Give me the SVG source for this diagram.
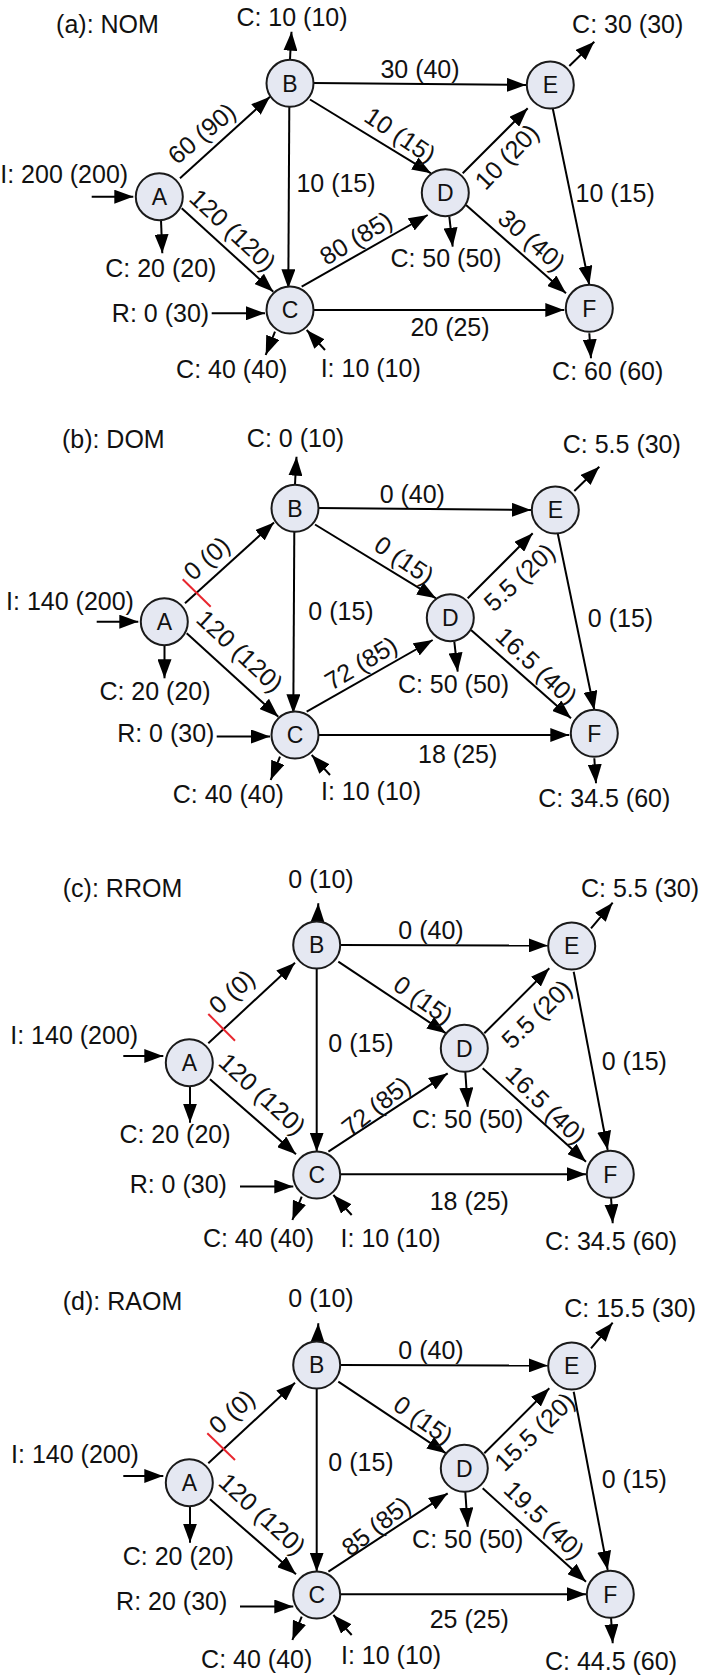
<svg xmlns="http://www.w3.org/2000/svg" width="702" height="1677" viewBox="0 0 702 1677">
<defs>
<marker id="ah" viewBox="0 0 19 14" refX="19" refY="7" markerWidth="19" markerHeight="14" markerUnits="userSpaceOnUse" orient="auto">
<path d="M0,0 L19,7 L0,14 z" fill="#000"/>
</marker>
<style>
.n circle{fill:#e5e8f2;stroke:#1a1a1a;stroke-width:2}
.n text{font-family:"Liberation Sans",Arial,sans-serif;font-size:23px;text-anchor:middle;fill:#111}
.e line{stroke:#000;stroke-width:2;fill:none;marker-end:url(#ah)}
.e line.x{stroke:#e8262e;stroke-width:2;marker-end:none}
.t{font-family:"Liberation Sans",Arial,sans-serif;font-size:25px;fill:#111;text-anchor:middle}
</style>
</defs>
<rect width="702" height="1677" fill="#fff"/>

<!-- Panel (a) -->
<g id="panel-a">
<g id="a-edges" class="e">
<line x1="91.7" y1="196.7" x2="133.3" y2="196.7"/>
<line x1="180" y1="178.3" x2="270" y2="96.7"/>
<line x1="181.7" y1="208.3" x2="273.3" y2="291.7"/>
<line x1="161" y1="220" x2="162.3" y2="253.3"/>
<line x1="290" y1="59" x2="291.5" y2="31.7"/>
<line x1="289.3" y1="106.7" x2="288.3" y2="288.3"/>
<line x1="313" y1="83" x2="526" y2="85"/>
<line x1="310" y1="99.5" x2="431" y2="173.3"/>
<line x1="211.7" y1="313.3" x2="265" y2="313.3"/>
<line x1="275" y1="331.7" x2="265.7" y2="355"/>
<line x1="325" y1="350" x2="306.7" y2="330"/>
<line x1="301.7" y1="286.7" x2="427.7" y2="215"/>
<line x1="313" y1="310" x2="564.3" y2="310"/>
<line x1="462.7" y1="173.3" x2="527.7" y2="108.3"/>
<line x1="569.3" y1="66" x2="594.3" y2="41.7"/>
<line x1="552.7" y1="108.3" x2="589.3" y2="285"/>
<line x1="449.3" y1="216.7" x2="452.7" y2="246.7"/>
<line x1="466" y1="205" x2="566" y2="293.3"/>
<line x1="589.3" y1="333.3" x2="591" y2="358.3"/>
</g>
<g id="a-A" class="n"><circle cx="159.3" cy="196.7" r="23.5"/><text x="159.3" y="204.9">A</text></g>
<g id="a-B" class="n"><circle cx="290" cy="83.3" r="23.5"/><text x="290" y="91.5">B</text></g>
<g id="a-C" class="n"><circle cx="290" cy="310" r="23.5"/><text x="290" y="318.2">C</text></g>
<g id="a-D" class="n"><circle cx="445.3" cy="192.7" r="23.5"/><text x="445.3" y="200.9">D</text></g>
<g id="a-E" class="n"><circle cx="550.3" cy="85" r="23.5"/><text x="550.3" y="93.2">E</text></g>
<g id="a-F" class="n"><circle cx="589.3" cy="308.3" r="23.5"/><text x="589.3" y="316.5">F</text></g>
<g id="a-labels">
<text class="t" x="107.5" y="33">(a): NOM</text>
<text class="t" x="292" y="26">C: 10 (10)</text>
<text class="t" x="64.2" y="182.7">I: 200 (200)</text>
<text class="t" x="160.8" y="276.7">C: 20 (20)</text>
<text class="t" x="336" y="191.7">10 (15)</text>
<text class="t" x="160.5" y="321.7">R: 0 (30)</text>
<text class="t" x="231.7" y="378.3">C: 40 (40)</text>
<text class="t" x="370.7" y="377">I: 10 (10)</text>
<text class="t" x="420" y="78.3">30 (40)</text>
<text class="t" x="615.2" y="201.7">10 (15)</text>
<text class="t" x="446" y="266.7">C: 50 (50)</text>
<text class="t" x="450" y="336">20 (25)</text>
<text class="t" x="627.7" y="33.3">C: 30 (30)</text>
<text class="t" x="607.7" y="380">C: 60 (60)</text>
<text class="t" transform="translate(201.7,133.3) rotate(-40)" y="8.8">60 (90)</text>
<text class="t" transform="translate(233,230) rotate(43)" y="8.8">120 (120)</text>
<text class="t" transform="translate(400.3,135) rotate(34)" y="8.8">10 (15)</text>
<text class="t" transform="translate(506.7,156.7) rotate(-46)" y="8.8">10 (20)</text>
<text class="t" transform="translate(532,240) rotate(41)" y="8.8">30 (40)</text>
<text class="t" transform="translate(356,238) rotate(-31)" y="8.8">80 (85)</text>
</g>
</g>

<!-- Panel (b) -->
<g id="panel-b">
<g id="b-edges" class="e">
<line x1="96.7" y1="621.7" x2="138.3" y2="621.7"/>
<line x1="185" y1="603.3" x2="274" y2="522.5"/>
<line x1="186.7" y1="633.3" x2="278.3" y2="716.7"/>
<line x1="164.5" y1="645" x2="164.5" y2="678.3"/>
<line x1="295" y1="484" x2="296.5" y2="456.7"/>
<line x1="294.3" y1="531.7" x2="293.3" y2="713.3"/>
<line x1="318" y1="508" x2="531" y2="510"/>
<line x1="315" y1="524.5" x2="436" y2="598.3"/>
<line x1="216.7" y1="736.5" x2="270" y2="736.5"/>
<line x1="280" y1="756.7" x2="270.7" y2="780"/>
<line x1="330" y1="775" x2="311.7" y2="755"/>
<line x1="306.7" y1="711.7" x2="432.7" y2="640"/>
<line x1="318" y1="735" x2="569.3" y2="735"/>
<line x1="467.7" y1="598.3" x2="532.7" y2="533.3"/>
<line x1="574.3" y1="491" x2="599.3" y2="466.7"/>
<line x1="557.7" y1="533.3" x2="594.3" y2="710"/>
<line x1="454.3" y1="641.7" x2="457.7" y2="671.7"/>
<line x1="471" y1="630" x2="571" y2="718.3"/>
<line x1="594.3" y1="758.3" x2="596" y2="783.3"/>
<line class="x" x1="182.7" y1="579.3" x2="210.7" y2="606.7"/>
</g>
<g id="b-A" class="n"><circle cx="164.3" cy="621.7" r="23.5"/><text x="164.3" y="629.9">A</text></g>
<g id="b-B" class="n"><circle cx="295" cy="508.3" r="23.5"/><text x="295" y="516.5">B</text></g>
<g id="b-C" class="n"><circle cx="295" cy="735" r="23.5"/><text x="295" y="743.2">C</text></g>
<g id="b-D" class="n"><circle cx="450.3" cy="617.7" r="23.5"/><text x="450.3" y="625.9">D</text></g>
<g id="b-E" class="n"><circle cx="555.3" cy="510" r="23.5"/><text x="555.3" y="518.2">E</text></g>
<g id="b-F" class="n"><circle cx="594.3" cy="733.3" r="23.5"/><text x="594.3" y="741.5">F</text></g>
<g id="b-labels">
<text class="t" x="113.3" y="448.3">(b): DOM</text>
<text class="t" x="295.5" y="446.7">C: 0 (10)</text>
<text class="t" x="70" y="610">I: 140 (200)</text>
<text class="t" x="155" y="700">C: 20 (20)</text>
<text class="t" x="341" y="620">0 (15)</text>
<text class="t" x="165.8" y="741.7">R: 0 (30)</text>
<text class="t" x="228.3" y="803.3">C: 40 (40)</text>
<text class="t" x="371" y="800">I: 10 (10)</text>
<text class="t" x="412.3" y="503.3">0 (40)</text>
<text class="t" x="621.8" y="453.3">C: 5.5 (30)</text>
<text class="t" x="620.5" y="626.7">0 (15)</text>
<text class="t" x="453.5" y="693.3">C: 50 (50)</text>
<text class="t" x="457.7" y="763.3">18 (25)</text>
<text class="t" x="604.3" y="806.7">C: 34.5 (60)</text>
<text class="t" transform="translate(206.7,558.3) rotate(-41)" y="8.8">0 (0)</text>
<text class="t" transform="translate(240,651) rotate(43)" y="8.8">120 (120)</text>
<text class="t" transform="translate(404.3,560) rotate(34)" y="8.8">0 (15)</text>
<text class="t" transform="translate(519.3,577.3) rotate(-43)" y="8.8">5.5 (20)</text>
<text class="t" transform="translate(536.7,666) rotate(43)" y="8.8">16.5 (40)</text>
<text class="t" transform="translate(361,663) rotate(-31)" y="8.8">72 (85)</text>
</g>
</g>

<!-- Panel (c) -->
<g id="panel-c">
<g id="c-edges" class="e">
<line x1="123.3" y1="1056" x2="163.3" y2="1056"/>
<line x1="208.3" y1="1043.3" x2="295" y2="962.7"/>
<line x1="210" y1="1079.3" x2="296" y2="1154.3"/>
<line x1="190" y1="1086" x2="190" y2="1122.7"/>
<line x1="317.5" y1="922" x2="318.3" y2="903.3"/>
<line x1="316.7" y1="968" x2="316.7" y2="1151.7"/>
<line x1="340" y1="945" x2="547.7" y2="945.5"/>
<line x1="338.3" y1="961.7" x2="446" y2="1033.3"/>
<line x1="240" y1="1186.5" x2="293.3" y2="1186.5"/>
<line x1="301.7" y1="1196.7" x2="292.4" y2="1220"/>
<line x1="351.7" y1="1215" x2="333.4" y2="1195"/>
<line x1="328.4" y1="1151.7" x2="447.7" y2="1073.3"/>
<line x1="340" y1="1174.3" x2="586" y2="1174.3"/>
<line x1="484.3" y1="1033.3" x2="549.3" y2="968.3"/>
<line x1="591" y1="928.3" x2="612.7" y2="902.7"/>
<line x1="573.7" y1="971.7" x2="607.7" y2="1150"/>
<line x1="465.3" y1="1072" x2="467.7" y2="1106.7"/>
<line x1="482.7" y1="1068.3" x2="586" y2="1161.7"/>
<line x1="611" y1="1197.5" x2="612.7" y2="1223.3"/>
<line class="x" x1="208.3" y1="1014" x2="235" y2="1040.7"/>
</g>
<g id="c-A" class="n"><circle cx="189.3" cy="1062.7" r="23.5"/><text x="189.3" y="1070.9">A</text></g>
<g id="c-B" class="n"><circle cx="316.7" cy="945" r="23.5"/><text x="316.7" y="953.2">B</text></g>
<g id="c-C" class="n"><circle cx="316.7" cy="1175" r="23.5"/><text x="316.7" y="1183.2">C</text></g>
<g id="c-D" class="n"><circle cx="464.3" cy="1048.3" r="23.5"/><text x="464.3" y="1056.5">D</text></g>
<g id="c-E" class="n"><circle cx="571.7" cy="946" r="23.5"/><text x="571.7" y="954.2">E</text></g>
<g id="c-F" class="n"><circle cx="610.3" cy="1174.3" r="23.5"/><text x="610.3" y="1182.5">F</text></g>
<g id="c-labels">
<text class="t" x="122.5" y="896.7">(c): RROM</text>
<text class="t" x="321" y="888.3">0 (10)</text>
<text class="t" x="74.2" y="1044">I: 140 (200)</text>
<text class="t" x="175" y="1143.3">C: 20 (20)</text>
<text class="t" x="361" y="1051.7">0 (15)</text>
<text class="t" x="178.3" y="1193.3">R: 0 (30)</text>
<text class="t" x="258.5" y="1247">C: 40 (40)</text>
<text class="t" x="390.6" y="1247">I: 10 (10)</text>
<text class="t" x="431" y="939.3">0 (40)</text>
<text class="t" x="640" y="896.7">C: 5.5 (30)</text>
<text class="t" x="634.3" y="1070">0 (15)</text>
<text class="t" x="467.7" y="1128.3">C: 50 (50)</text>
<text class="t" x="469.3" y="1210">18 (25)</text>
<text class="t" x="611" y="1250">C: 34.5 (60)</text>
<text class="t" transform="translate(231.7,991.7) rotate(-42)" y="8.8">0 (0)</text>
<text class="t" transform="translate(262.3,1094) rotate(42.5)" y="8.8">120 (120)</text>
<text class="t" transform="translate(423.3,1000) rotate(35)" y="8.8">0 (15)</text>
<text class="t" transform="translate(536.7,1014) rotate(-44)" y="8.8">5.5 (20)</text>
<text class="t" transform="translate(546,1105) rotate(44)" y="8.8">16.5 (40)</text>
<text class="t" transform="translate(376,1106) rotate(-38)" y="8.8">72 (85)</text>
</g>
</g>

<!-- Panel (d) -->
<g id="panel-d">
<g id="d-edges" class="e">
<line x1="123.3" y1="1476" x2="163.3" y2="1476"/>
<line x1="208.3" y1="1463.3" x2="295" y2="1382.7"/>
<line x1="210" y1="1499.3" x2="296" y2="1574.3"/>
<line x1="190" y1="1506" x2="190" y2="1542.7"/>
<line x1="317.5" y1="1342" x2="318.3" y2="1323.3"/>
<line x1="316.7" y1="1388" x2="316.7" y2="1571.7"/>
<line x1="340" y1="1365" x2="547.7" y2="1365.5"/>
<line x1="338.3" y1="1381.7" x2="446" y2="1453.3"/>
<line x1="240" y1="1606.5" x2="293.3" y2="1606.5"/>
<line x1="301.7" y1="1616.7" x2="292.4" y2="1640"/>
<line x1="351.7" y1="1635" x2="333.4" y2="1615"/>
<line x1="328.4" y1="1571.7" x2="447.7" y2="1493.3"/>
<line x1="340" y1="1594.3" x2="586" y2="1594.3"/>
<line x1="484.3" y1="1453.3" x2="549.3" y2="1388.3"/>
<line x1="591" y1="1348.3" x2="612.7" y2="1322.7"/>
<line x1="573.7" y1="1391.7" x2="607.7" y2="1570"/>
<line x1="465.3" y1="1492" x2="467.7" y2="1526.7"/>
<line x1="482.7" y1="1488.3" x2="586" y2="1581.7"/>
<line x1="611" y1="1617.5" x2="612.7" y2="1643.3"/>
<line class="x" x1="207.3" y1="1433.3" x2="235" y2="1460"/>
</g>
<g id="d-A" class="n"><circle cx="189.3" cy="1482.7" r="23.5"/><text x="189.3" y="1490.9">A</text></g>
<g id="d-B" class="n"><circle cx="316.7" cy="1365" r="23.5"/><text x="316.7" y="1373.2">B</text></g>
<g id="d-C" class="n"><circle cx="316.7" cy="1595" r="23.5"/><text x="316.7" y="1603.2">C</text></g>
<g id="d-D" class="n"><circle cx="464.3" cy="1468.3" r="23.5"/><text x="464.3" y="1476.5">D</text></g>
<g id="d-E" class="n"><circle cx="571.7" cy="1366" r="23.5"/><text x="571.7" y="1374.2">E</text></g>
<g id="d-F" class="n"><circle cx="610.3" cy="1594.3" r="23.5"/><text x="610.3" y="1602.5">F</text></g>
<g id="d-labels">
<text class="t" x="122.5" y="1310">(d): RAOM</text>
<text class="t" x="321" y="1306.7">0 (10)</text>
<text class="t" x="75" y="1462.7">I: 140 (200)</text>
<text class="t" x="178.3" y="1565">C: 20 (20)</text>
<text class="t" x="361" y="1471">0 (15)</text>
<text class="t" x="171.7" y="1610">R: 20 (30)</text>
<text class="t" x="256.7" y="1668">C: 40 (40)</text>
<text class="t" x="391" y="1664">I: 10 (10)</text>
<text class="t" x="431" y="1359.3">0 (40)</text>
<text class="t" x="630.2" y="1316.7">C: 15.5 (30)</text>
<text class="t" x="634.3" y="1488.3">0 (15)</text>
<text class="t" x="467.7" y="1548.3">C: 50 (50)</text>
<text class="t" x="469.3" y="1628.3">25 (25)</text>
<text class="t" x="611" y="1670">C: 44.5 (60)</text>
<text class="t" transform="translate(231.7,1411.7) rotate(-42)" y="8.8">0 (0)</text>
<text class="t" transform="translate(262.3,1514) rotate(42.5)" y="8.8">120 (120)</text>
<text class="t" transform="translate(423.3,1420) rotate(35)" y="8.8">0 (15)</text>
<text class="t" transform="translate(534.3,1431.7) rotate(-44)" y="8.8">15.5 (20)</text>
<text class="t" transform="translate(544.3,1520) rotate(44)" y="8.8">19.5 (40)</text>
<text class="t" transform="translate(376,1526) rotate(-38)" y="8.8">85 (85)</text>
</g>
</g>
</svg>
